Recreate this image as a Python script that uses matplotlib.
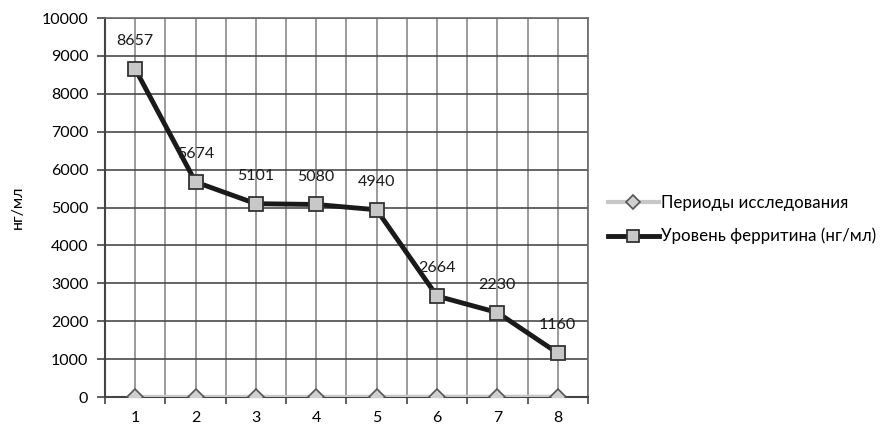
import matplotlib
matplotlib.use('Agg')
import matplotlib.pyplot as plt
from matplotlib.ticker import MultipleLocator

plt.rcParams['font.family'] = ['Lato', 'DejaVu Sans']

periods = [1, 2, 3, 4, 5, 6, 7, 8]
period_series = [1, 2, 3, 4, 5, 6, 7, 8]
ferritin = [8657, 5674, 5101, 5080, 4940, 2664, 2230, 1160]
x_labels = ['1', '2', '3', '4', '5', '6', '7', '8']

fig = plt.figure(figsize=(8.86, 4.36), dpi=100)
ax = fig.add_axes([0.1185, 0.0894, 0.545, 0.8693])

ax.plot(periods, period_series, color='#c8c8c8', linewidth=3,
        marker='D', markersize=8, markerfacecolor='#d0d0d0',
        markeredgecolor='#555555', markeredgewidth=1.2,
        label='Периоды исследования', zorder=3)
ax.plot(periods, ferritin, color='#1a1a1a', linewidth=3.5,
        marker='s', markersize=10, markerfacecolor='#c8c8c8',
        markeredgecolor='#333333', markeredgewidth=1.3,
        label='Уровень ферритина (нг/мл)', zorder=4)

for x, v in zip(periods, ferritin):
    ax.annotate(str(v), (x, v), xytext=(0, 15), textcoords='offset points',
                ha='center', va='bottom', fontsize=11.5, color='#1a1a1a', zorder=5)

ax.set_xlim(0.5, 8.5)
ax.set_ylim(0, 10000)
ax.set_xticks(periods)
ax.set_xticklabels(x_labels)
ax.xaxis.set_minor_locator(MultipleLocator(1, offset=0.5))
ax.yaxis.set_major_locator(MultipleLocator(1000))
ax.tick_params(axis='x', which='major', length=0, pad=10, labelsize=11.5)
ax.tick_params(axis='x', which='minor', length=5, width=1.2, color='#444444', direction='out')
ax.tick_params(axis='y', length=6, width=1.2, color='#444444', pad=6, labelsize=11.5)

ax.grid(axis='x', which='both', color='#8a8a8a', linewidth=1.2)
ax.grid(axis='y', which='major', color='#4a4a4a', linewidth=1.2)
ax.set_axisbelow(True)

for side in ['left', 'bottom']:
    ax.spines[side].set_color('#444444')
    ax.spines[side].set_linewidth(1.5)
for side in ['top', 'right']:
    ax.spines[side].set_color('#6a6a6a')
    ax.spines[side].set_linewidth(1.2)

ax.set_ylabel('нг/мл', fontsize=11.5, labelpad=12)

leg = fig.legend(loc='center left', bbox_to_anchor=(0.669, 0.496), frameon=False,
                 fontsize=12.2, handlelength=3.0, handletextpad=0.1, labelspacing=1.0,
                 markerscale=0.85)

fig.savefig('out.png', dpi=100)
